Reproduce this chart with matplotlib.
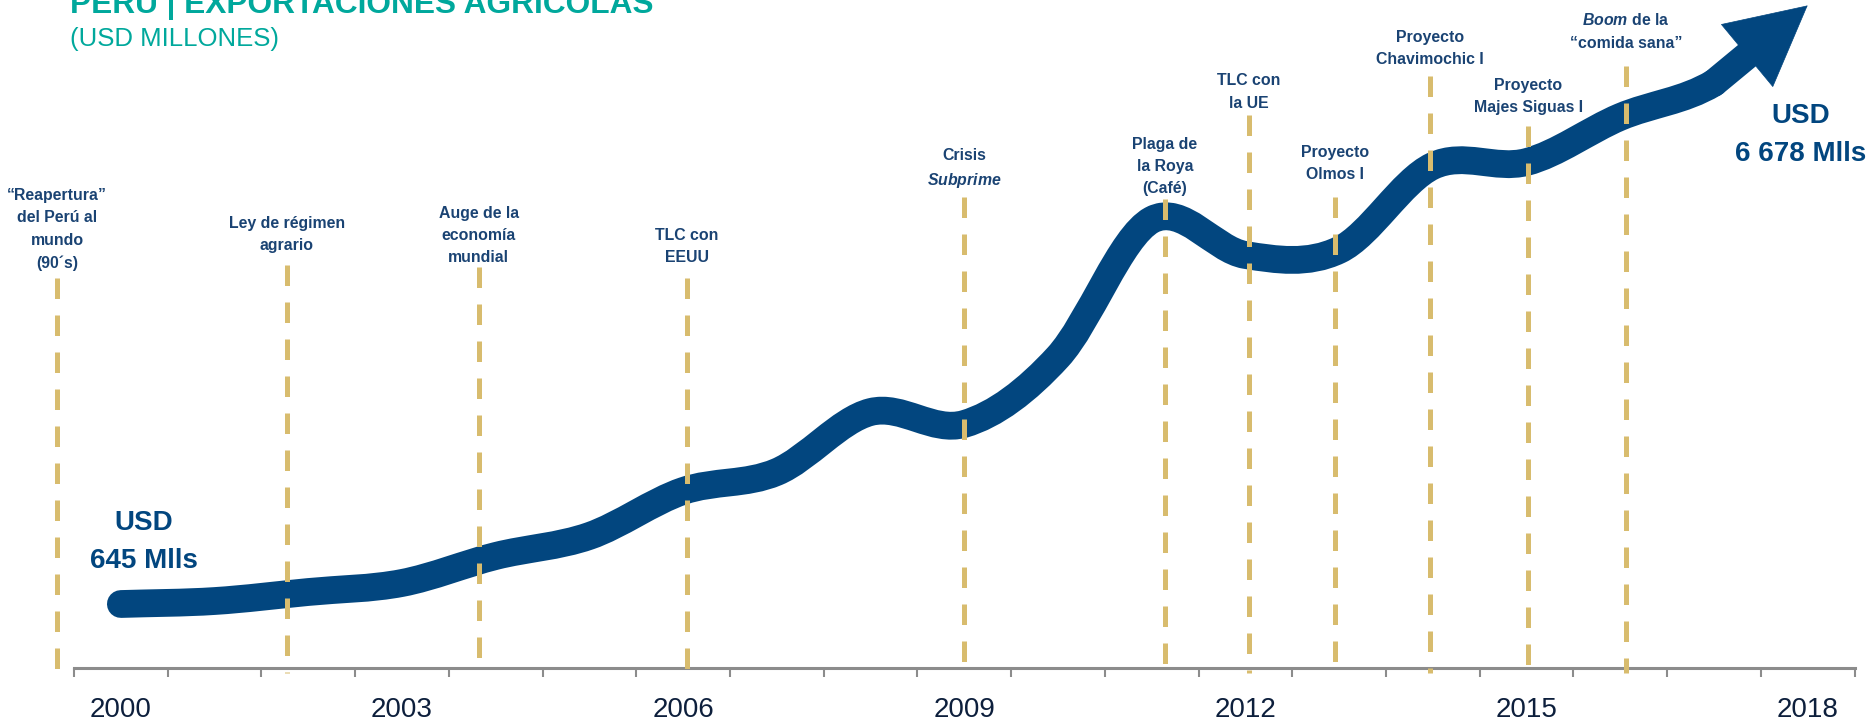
import matplotlib
matplotlib.use('Agg')
import matplotlib.pyplot as plt
from matplotlib.path import Path
from matplotlib.patches import PathPatch
import numpy as np

plt.rcParams['font.family'] = ['Liberation Sans', 'DejaVu Sans']
plt.rcParams['mathtext.fontset'] = 'custom'
plt.rcParams['mathtext.it'] = 'Liberation Sans:italic:bold'
plt.rcParams['mathtext.rm'] = 'Liberation Sans:bold'

# data (USD millones)
years = list(range(2000, 2019))
exports = [645, 675, 766, 857, 1129, 1331, 1784, 1976, 2580, 2460,
           3135, 4516, 4163, 4213, 5060, 5100, 5554, 5897, 6678]
tick_years = [2000, 2003, 2006, 2009, 2012, 2015, 2018]

event_years = [1999.32, 2001.77, 2003.82, 2006.04, 2009.0, 2011.14,
               2012.04, 2012.96, 2013.97, 2015.02, 2016.06]
event_labels = [
    '“Reapertura”\ndel Perú al\nmundo\n(90´s)',
    'Ley de régimen\nagrario',
    'Auge de la\neconomía\nmundial',
    'TLC con\nEEUU',
    'Crisis\n$\\mathit{Subprime}$',
    'Plaga de\nla Roya\n(Café)',
    'TLC con\nla UE',
    'Proyecto\nOlmos I',
    'Proyecto\nChavimochic I',
    'Proyecto\nMajes Siguas I',
    '$\\mathit{Boom}$ de la\n“comida sana”',
]
# layout: top of each dashed line and centre of each label (in value units)
line_tops = [3931, 4062, 4042, 3931, 4748, 4728, 5574, 4748, 5967, 5463, 6068]
label_centers = [4420, 4370, 4360, 4249, 5030, 5055, 5806, 5085, 6245, 5761, 6416]

start_label = 'USD\n645 Mlls'
end_label = 'USD\n6 678 Mlls'

band_color = '#02467f'
label_color = '#1a4373'
gold = '#d8bc6e'
teal = '#00a89c'
axis_gray = '#8c8c8c'

fig = plt.figure(figsize=(18.7, 7.22), dpi=100)
ax = fig.add_axes([74 / 1870, 54 / 722, 1780.5 / 1870, 668 / 722])
ax.set_xlim(-0.5, len(years) - 0.5)
ax.set_ylim(0, 6733)

# smooth band through the yearly values (cubic bezier, catmull-rom tangents)
xs = np.arange(len(years), dtype=float)
ys = np.array(exports, dtype=float)
n_band = len(years) - 1  # band stops at 2017, arrow head goes to 2018
verts = [(xs[0], ys[0])]
codes = [Path.MOVETO]
for i in range(n_band - 1):
    i0 = max(i - 1, 0)
    i3 = min(i + 2, len(xs) - 1)
    t1 = ((xs[i + 1] - xs[i0]) / (i + 1 - i0), (ys[i + 1] - ys[i0]) / (i + 1 - i0))
    t2 = ((xs[i3] - xs[i]) / (i3 - i), (ys[i3] - ys[i]) / (i3 - i))
    verts.append((xs[i] + t1[0] / 3, ys[i] + t1[1] / 3))
    verts.append((xs[i + 1] - t2[0] / 3, ys[i + 1] - t2[1] / 3))
    verts.append((xs[i + 1], ys[i + 1]))
    codes += [Path.CURVE4] * 3
band = PathPatch(Path(verts, codes), fill=False, lw=20, edgecolor=band_color,
                 capstyle='round', joinstyle='round', zorder=2)
ax.add_patch(band)

# last stretch + arrow head
ax.annotate('', xy=(xs[-1], ys[-1]), xytext=(xs[-2], ys[-2]),
            arrowprops=dict(arrowstyle='-', lw=20, color=band_color,
                            shrinkA=0, shrinkB=50), zorder=2)
ax.annotate('', xy=(xs[-1], ys[-1]), xytext=(xs[-2], ys[-2]),
            arrowprops=dict(arrowstyle='-|>,head_length=0.56,head_width=0.29',
                            mutation_scale=100, lw=0.5, color=band_color,
                            shrinkA=0, shrinkB=0), zorder=2)

# events
for ev, lab, top, cy in zip(event_years, event_labels, line_tops, label_centers):
    x = ev - years[0]
    ax.plot([x, x], [top, -50], color=gold, lw=3.6, linestyle=(0, (4.1, 3.3)),
            solid_capstyle='butt', dash_capstyle='butt', clip_on=False, zorder=3)
    ax.text(x, cy, lab, ha='center', va='center', fontsize=11.4, fontweight='bold',
            color=label_color, linespacing=1.6, multialignment='center')

# value labels
ax.annotate(start_label, xy=(xs[0], ys[0]), xytext=(16.6, 45), textcoords='offset points',
            ha='center', va='center', fontsize=20, fontweight='bold', color=band_color,
            linespacing=1.6)
ax.annotate(end_label, xy=(xs[-1], ys[-1]), xytext=(-4.8, -93), textcoords='offset points',
            ha='center', va='center', fontsize=20, fontweight='bold', color=band_color,
            linespacing=1.6, annotation_clip=False)

# axis
for s in ['top', 'right', 'left']:
    ax.spines[s].set_visible(False)
ax.spines['bottom'].set_color(axis_gray)
ax.spines['bottom'].set_linewidth(2.2)
ax.set_yticks([])
ax.set_xticks([y - years[0] for y in tick_years])
ax.set_xticklabels([str(y) for y in tick_years])
ax.set_xticks(np.arange(-0.5, len(years), 1), minor=True)
ax.tick_params(axis='x', which='major', length=0, pad=21, labelsize=20, labelcolor='#0d1f3c')
ax.tick_params(axis='x', which='minor', length=6.5, width=1.5, color=axis_gray)

# titles
fig.text(70 / 1870, 1 - 13 / 722, 'PERÚ | EXPORTACIONES AGRÍCOLAS', fontsize=22.8,
         fontweight='bold', color=teal, va='baseline', ha='left')
fig.text(70 / 1870, 1 - 46 / 722, '(USD MILLONES)', fontsize=18.5,
         color=teal, va='baseline', ha='left')

fig.savefig('out.png', dpi=100)
